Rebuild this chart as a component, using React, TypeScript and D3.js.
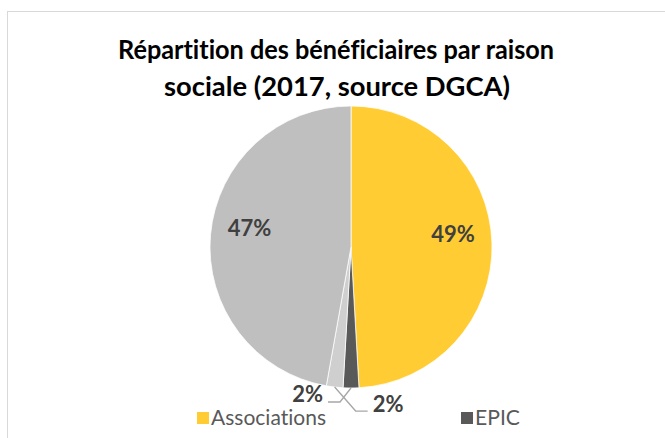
import React from 'react';
import * as d3 from 'd3';

// ---- data ----
const categories = ['Associations', 'EPIC', 'Autres statuts', 'Sociétés'];
const values = [49.1, 1.8, 1.9, 47.2];
const colors = ['#FFCD33', '#595959', '#D0CFCF', '#BFBFBF'];
const titleLines = ['Répartition des bénéficiaires par raison', 'sociale (2017, source DGCA)'];
const legendItems = ['Associations', 'EPIC'];

// ---- layout ----
const W = 665;
const H = 438;
const cx = 351;
const cy = 247;
const R = 141;
const FONT = 'Lato, "Open Sans", sans-serif';
const titleWidths = [436, 346];
const legendWidths = [115, 45];

export default function App() {
  const pie = d3.pie<number>().sort(null).value((d) => d);
  const arcs = pie(values);
  const arc = d3.arc<d3.PieArcDatum<number>>().innerRadius(0).outerRadius(R);
  const labelArc = d3.arc<d3.PieArcDatum<number>>().innerRadius(102).outerRadius(102);
  const total = d3.sum(values);
  const pct = (v: number) => `${Math.round((v / total) * 100)}%`;
  const rim = (a: d3.PieArcDatum<number>) => {
    const m = (a.startAngle + a.endAngle) / 2;
    return [Math.sin(m) * R, -Math.cos(m) * R];
  };

  const outside: Record<number, { elbow: [number, number]; end: [number, number]; text: [number, number]; anchor: string }> = {
    1: { elbow: [-11, 14], end: [-23, 14], text: [-28, 5], anchor: 'end' },
    2: { elbow: [21, 24], end: [33, 24], text: [38, 16], anchor: 'start' },
  };

  const legendX = d3.scalePoint<string>().domain(legendItems).range([197, 461]);

  return (
    <svg
      width={W}
      height={H}
      style={{ position: 'absolute', left: 0, top: 0, fontVariantLigatures: 'none' }}
      fontFamily={FONT}
    >
      <rect x={7.5} y={11.5} width={720} height={500} fill="#fff" stroke="#d9d9d9" strokeWidth={1} />
      {titleLines.map((t, i) => (
        <text
          key={i}
          x={i === 0 ? 336 : 337}
          y={59 + i * 37}
          textAnchor="middle"
          fontSize={26}
          fontWeight={700}
          fill="#000"
          textLength={titleWidths[i]}
          lengthAdjust="spacingAndGlyphs"
        >
          {t}
        </text>
      ))}
      <g transform={`translate(${cx},${cy})`}>
        {arcs.map((a, i) => (
          <path key={i} d={arc(a) || ''} fill={colors[i]} stroke="#fff" strokeWidth={0.75} />
        ))}
        {arcs.map((a, i) => {
          if (outside[i]) {
            const [rx, ry] = rim(a);
            const o = outside[i];
            const pts: [number, number][] = [
              [rx, ry],
              [rx + o.elbow[0], ry + o.elbow[1]],
              [rx + o.end[0], ry + o.end[1]],
            ];
            return (
              <g key={i}>
                <path d={d3.line()(pts) || ''} fill="none" stroke="#A6A6A6" strokeWidth={1.3} />
                <text
                  x={rx + o.text[0]}
                  y={ry + o.text[1]}
                  textAnchor={o.anchor}
                  dominantBaseline="central"
                  fontSize={22}
                  fontWeight={700}
                  fill="#404040"
                >
                  {pct(a.value)}
                </text>
              </g>
            );
          }
          const [lx, ly] = labelArc.centroid(a);
          return (
            <text key={i} x={lx} y={ly - 11} textAnchor="middle" dominantBaseline="central" fontSize={22} fontWeight={700} fill="#404040">
              {pct(a.value)}
            </text>
          );
        })}
      </g>
      {legendItems.map((name, j) => {
        const idx = categories.indexOf(name);
        const x = legendX(name) || 0;
        return (
          <g key={name}>
            <rect x={x} y={412} width={12} height={12} fill={colors[idx]} />
            <text
              x={x + 14}
              y={425}
              fontSize={22}
              fill="#595959"
              textLength={legendWidths[j]}
              lengthAdjust="spacingAndGlyphs"
            >
              {name}
            </text>
          </g>
        );
      })}
    </svg>
  );
}
